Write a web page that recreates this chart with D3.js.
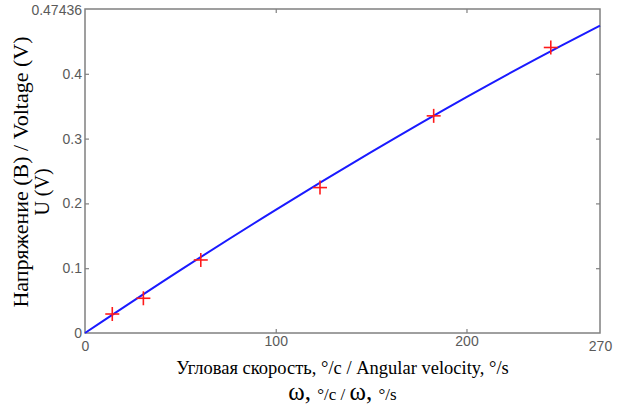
<!DOCTYPE html>
<html>
<head>
<meta charset="utf-8">
<script src="https://cdn.jsdelivr.net/npm/d3@7"></script>
<style>
  body { margin: 0; background: #fff; }
  .tick text { font-family: "Liberation Sans", Arial, sans-serif; font-size: 14px; fill: #5a5a5a; }
  .title { font-family: "Liberation Serif", "Times New Roman", serif; fill: #000; }
</style>
</head>
<body>
<div id="canvas"></div>
<script>
// measured points (angular velocity, voltage)
const omega = [14.3, 30.6, 60.7, 123.2, 182.8, 244.2];
const voltage = [0.0293, 0.0536, 0.1127, 0.2244, 0.3351, 0.4406];
// fitted curve
const fitX = [0, 50, 100, 150, 200, 250, 270];
const fitY = [0, 0.097, 0.190, 0.279, 0.364, 0.444, 0.4744];
const xTicks = [0, 100, 200, 270];
const yTicks = [0, 0.1, 0.2, 0.3, 0.4];
const yTopLabel = '0.47436';

const width = 618, height = 405;
const margin = {left: 85, right: 18, top: 9, bottom: 72};

const svg = d3.select('#canvas')
  .append('svg')
    .attr('width', width)
    .attr('height', height);

const x = d3.scaleLinear().domain([0, 270]).range([margin.left, width - margin.right]);
const y = d3.scaleLinear().domain([0, 0.5]).range([height - margin.bottom, margin.top]);

const axisColor = '#808080';

// box
svg.append('rect')
  .attr('x', x(0)).attr('y', y(0.5))
  .attr('width', x(270) - x(0)).attr('height', y(0) - y(0.5))
  .attr('fill', 'none').attr('stroke', axisColor).attr('stroke-width', 1.5);

// axes (ticks pointing inward)
const xAxis = svg.append('g')
  .attr('transform', `translate(0,${y(0)})`)
  .call(d3.axisBottom(x).tickValues(xTicks).tickSize(-4).tickPadding(3).tickFormat(d3.format('d')));
const yAxis = svg.append('g')
  .attr('transform', `translate(${x(0)},0)`)
  .call(d3.axisLeft(y).tickValues(yTicks).tickSize(-4).tickPadding(3).tickFormat(d => d === 0 ? '0' : d3.format('.1f')(d)));
svg.append('g')
  .attr('transform', `translate(0,${y(0.5)})`)
  .call(d3.axisTop(x).tickValues(xTicks.slice(1, 3)).tickSize(-4).tickFormat(''));
svg.append('g')
  .attr('transform', `translate(${x(270)},0)`)
  .call(d3.axisRight(y).tickValues(yTicks.slice(1)).tickSize(-4).tickFormat(''));

svg.selectAll('.domain').remove();
svg.selectAll('.tick line').attr('stroke', axisColor).attr('stroke-width', 1.2);
// corner labels sit a little lower
xAxis.selectAll('.tick text').attr('dy', d => (d === 0 || d === 270) ? '1.1em' : '0.71em');
xAxis.selectAll('.tick').filter(d => d === 0 || d === 270).select('line').remove();
yAxis.selectAll('.tick').filter(d => d === 0).select('line').remove();

// top label
svg.append('text')
  .attr('x', x(0) - 3).attr('y', y(0.5) + 2)
  .attr('dy', '0.32em')
  .attr('text-anchor', 'end')
  .style('font-family', '"Liberation Sans", Arial, sans-serif')
  .style('font-size', '14px')
  .style('fill', '#5a5a5a')
  .text(yTopLabel);

// fit curve
const line = d3.line().x(d => x(d[0])).y(d => y(d[1])).curve(d3.curveMonotoneX);
svg.append('path')
  .datum(fitX.map((v, i) => [v, fitY[i]]))
  .attr('d', line)
  .style('fill', 'none')
  .style('stroke', '#1a1aff')
  .style('stroke-width', 2);

// markers
const s = 7;
const marks = svg.append('g').selectAll('g')
  .data(omega.map((v, i) => [v, voltage[i]]))
  .join('g')
  .attr('transform', d => `translate(${x(d[0])},${y(d[1])})`)
  .attr('stroke', '#ff1a1a')
  .attr('stroke-width', 1.6);
marks.append('line').attr('x1', -s).attr('x2', s);
marks.append('line').attr('y1', -s).attr('y2', s);

// x titles
const cx = (x(0) + x(270)) / 2;
svg.append('text')
  .attr('class', 'title')
  .attr('x', cx).attr('y', 374)
  .attr('text-anchor', 'middle')
  .style('font-size', '18.5px')
  .text('Угловая скорость, °/с / Angular velocity, °/s');
const t2 = svg.append('text')
  .attr('class', 'title')
  .attr('x', cx).attr('y', 400)
  .attr('text-anchor', 'middle');
t2.append('tspan').style('font-size', '25px').text('ω, ');
t2.append('tspan').style('font-size', '17px').text('°/с / ');
t2.append('tspan').style('font-size', '25px').text('ω, ');
t2.append('tspan').style('font-size', '17px').text('°/s');

// y titles
svg.append('text')
  .attr('class', 'title')
  .attr('transform', 'translate(28,172) rotate(-90)')
  .attr('text-anchor', 'middle')
  .style('font-size', '22px')
  .text('Напряжение (В) / Voltage (V)');
svg.append('text')
  .attr('class', 'title')
  .attr('transform', 'translate(49,192) rotate(-90)')
  .attr('text-anchor', 'middle')
  .style('font-size', '20px')
  .text('U (V)');
</script>
</body>
</html>
